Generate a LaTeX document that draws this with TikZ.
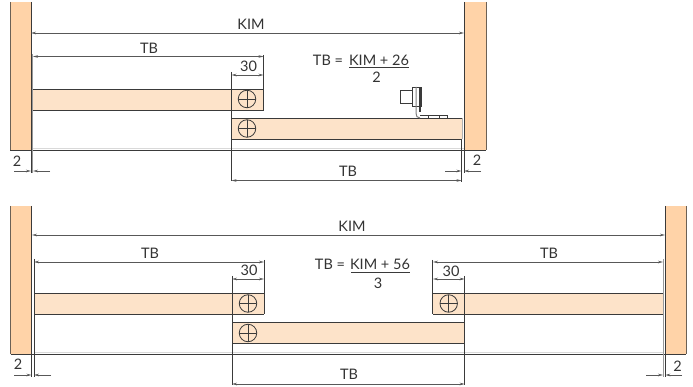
\documentclass[tikz,border=0pt]{standalone}
\usepackage{fontspec}
\setmainfont{Lato}
\usetikzlibrary{arrows.meta}
\definecolor{wallc}{HTML}{FFD3A8}
\definecolor{railc}{HTML}{FDE3C9}
\definecolor{linec}{HTML}{3A3A3A}
\tikzset{
  x=1pt,y=-1pt,
  rail/.style={fill=railc},
  edge/.style={draw=linec,line width=.9pt},
  outer/.style={draw=linec!75!wallc,line width=.6pt},
  ext/.style={draw=linec,line width=.8pt},
  extg/.style={draw=gray!80,line width=1.2pt},
  dim/.style={draw=linec!85,line width=.9pt,{Stealth[length=5pt,width=2.6pt]}-{Stealth[length=5pt,width=2.6pt]}},
  lead/.style={draw=linec!85,line width=.8pt,-{Stealth[length=5pt,width=2.6pt]}},
  lbl/.style={inner sep=0pt,font=\fontsize{14.5}{14.5}\selectfont,text=black!80},
  screw/.style={circle,draw=linec,line width=.8pt,minimum size=17.5pt,inner sep=0pt,
    path picture={\draw[line width=.7pt,draw=linec] (path picture bounding box.north)--(path picture bounding box.south)
      (path picture bounding box.west)--(path picture bounding box.east);}},
}
\begin{document}
\begin{tikzpicture}
\useasboundingbox (0,0) rectangle (693,387);
% ===== top =====
\coordinate (wlt) at (10,2); \coordinate (wlb) at (31,150);
\coordinate (wrt) at (464,2); \coordinate (wrb) at (486,150);
\fill[wallc] (wlt) rectangle (wlb);
\fill[wallc] (wrt) rectangle (wrb);
\draw[outer] (10,2)--(10,150) (486,2)--(486,150);
\draw[edge] (31,2)--(31,173) (464,2)--(464,173);
\draw[draw=gray!30,line width=1.4pt] (33,148.6)--(464,148.6);
\draw[edge] (10,150)--(486,150);
% rails
\fill[rail] (33,89) rectangle (263.5,110);
\fill[rail] (231.5,118.5) rectangle (462,139.5);
\draw[edge] (33,89)--(263.5,89) (33,110)--(263.5,110) (231.5,118.5)--(462,118.5) (231.5,139.5)--(462,139.5);
\node[screw] (s1) at (247,99) {};
\node[screw] (s2) at (247,128.5) {};
% extension lines
\draw[extg] (32.7,54)--(32.7,173);
\draw[ext] (231.5,72)--(231.5,181);
\draw[ext] (263.5,55)--(263.5,110);
\draw[ext] (461.5,139)--(461.5,182);
\draw[draw=gray!60,line width=.8pt] (462.3,118.5)--(462.3,139.5);
% dims
\coordinate (ka) at (31,33); \coordinate (kb) at (464,33);
\draw[dim] (ka)--(kb);
\node[lbl] (kim1) at (251,24) {KIM};
\coordinate (ta) at (33,56.5); \coordinate (tb) at (263.5,56.5);
\draw[dim] (ta)--(tb);
\node[lbl] (tb1) at (149,48) {TB};
\coordinate (da) at (231.5,75); \coordinate (db) at (263.5,75);
\draw[dim] (da)--(db);
\node[lbl] (n30a) at (248.5,66) {30};
\coordinate (ua) at (231.5,180.5); \coordinate (ub) at (461.5,180.5);
\draw[dim] (ua)--(ub);
\node[lbl] (tb2) at (348,171) {TB};
\node[lbl] (n2a) at (17,161) {2};
\coordinate (l1) at (14,171); \coordinate (l1e) at (31,171);
\coordinate (l2) at (50,171); \coordinate (l2e) at (33,171);
\draw[lead] (l1)--(l1e); \draw[lead] (l2)--(l2e);
\node[lbl] (n2b) at (477,160) {2};
\coordinate (r1) at (445,171); \coordinate (r1e) at (461.5,171);
\coordinate (r2) at (481,171); \coordinate (r2e) at (464,171);
\draw[lead] (r1)--(r1e); \draw[lead] (r2)--(r2e);
% formula
\node[lbl] (f1) at (328,60.5) {TB =};
\node[lbl] (f2) at (379,60.5) {KIM + 26};
\coordinate (fa) at (349,67.5); \coordinate (fb) at (409,67.5);
\draw[ext] (fa)--(fb);
\node[lbl] (f3) at (376.5,77.5) {2};
% bracket
\draw[draw=linec,line width=.8pt,fill=white] (400.5,90) rectangle (412,103);
\draw[draw=linec,line width=.8pt,fill=white] (412,87) rectangle (421,106);
\draw[draw=gray,line width=1pt] (416,87)--(416,113) .. controls (416,116) and (417,118) .. (420,118);
\fill[linec] (418.5,88) rectangle (420.5,112);
\draw[draw=linec,line width=.8pt] (420,115.5)--(447.7,115.5)--(447.7,118);
\draw[draw=linec,line width=.8pt] (428.5,115.5)--(428.5,118) (439,115.5)--(439,118);
% ===== bottom =====
\coordinate (Wlt) at (10.5,206); \coordinate (Wlb) at (31.5,354);
\coordinate (Wrt) at (665.3,206); \coordinate (Wrb) at (686.3,354);
\fill[wallc] (Wlt) rectangle (Wlb);
\fill[wallc] (Wrt) rectangle (Wrb);
\draw[outer] (10.5,206)--(10.5,354) (686.3,206)--(686.3,354);
\draw[edge] (31.5,206)--(31.5,377) (665.3,206)--(665.3,377);
\draw[draw=gray!30,line width=1.4pt] (34,352.6)--(663,352.6);
\draw[edge] (10.5,354)--(686.3,354);
\fill[rail] (34,293) rectangle (264,314);
\fill[rail] (232,322.5) rectangle (465,343.5);
\fill[rail] (433,293) rectangle (663,314);
\draw[edge] (34,293)--(264,293) (34,314)--(264,314) (433,293)--(663,293) (433,314)--(663,314)
  (232,322.5)--(465,322.5) (232,343.5)--(465,343.5);
\node[screw] (s3) at (248,303.5) {};
\node[screw] (s4) at (248,333) {};
\node[screw] (s5) at (448.7,303.5) {};
\draw[ext] (34,259)--(34,377);
\draw[ext] (232,276)--(232,385);
\draw[ext] (264,260)--(264,314);
\draw[ext] (432.7,260)--(432.7,314);
\draw[ext] (464.7,276)--(464.7,385);
\draw[extg] (663.3,259)--(663.3,377);
\coordinate (Ka) at (32,235); \coordinate (Kb) at (665,235);
\draw[dim] (Ka)--(Kb);
\node[lbl] (kim2) at (352,226) {KIM};
\coordinate (Ta) at (34,262); \coordinate (Tb) at (264,262);
\draw[dim] (Ta)--(Tb);
\node[lbl] (tb3) at (150,253) {TB};
\coordinate (Da) at (232,279); \coordinate (Db) at (264,279);
\draw[dim] (Da)--(Db);
\node[lbl] (n30b) at (249,270) {30};
\coordinate (Ea) at (433,262); \coordinate (Eb) at (663,262);
\draw[dim] (Ea)--(Eb);
\node[lbl] (tb4) at (549,253) {TB};
\coordinate (Fa) at (433,279); \coordinate (Fb) at (464.7,279);
\draw[dim] (Fa)--(Fb);
\node[lbl] (n30c) at (451,271) {30};
\coordinate (Ua) at (232,384); \coordinate (Ub) at (464.7,384);
\draw[dim] (Ua)--(Ub);
\node[lbl] (tb5) at (349,374) {TB};
\node[lbl] (n2c) at (18,364) {2};
\coordinate (L1) at (14,375); \coordinate (L1e) at (31.5,375);
\coordinate (L2) at (51,375); \coordinate (L2e) at (34,375);
\draw[lead] (L1)--(L1e); \draw[lead] (L2)--(L2e);
\node[lbl] (n2d) at (677.5,366) {2};
\coordinate (R1) at (646,375); \coordinate (R1e) at (663,375);
\coordinate (R2) at (682,375); \coordinate (R2e) at (665.3,375);
\draw[lead] (R1)--(R1e); \draw[lead] (R2)--(R2e);
\node[lbl] (g1) at (330,264) {TB =};
\node[lbl] (g2) at (380,264) {KIM + 56};
\coordinate (ga) at (351,272); \coordinate (gb) at (410,272);
\draw[ext] (ga)--(gb);
\node[lbl] (g3) at (378,283) {3};
\end{tikzpicture}
\end{document}
